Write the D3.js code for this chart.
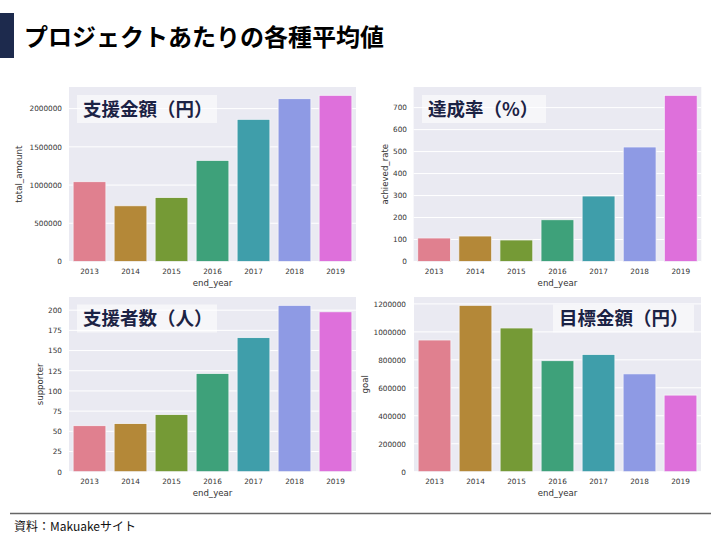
<!DOCTYPE html>
<html><head><meta charset="utf-8">
<script src="https://cdn.jsdelivr.net/npm/d3@7"></script>
<style>
body{margin:0;background:#fff;}
svg{display:block;}
</style></head>
<body>
<svg id="c" width="720" height="540"></svg>
<script>
const years = ["2013","2014","2015","2016","2017","2018","2019"];
const totalAmount = [1044000, 729000, 838000, 1323000, 1860000, 2130000, 2174000];
const achievedRate = [107, 116, 98, 190, 298, 521, 756];
const supporter = [57, 59.6, 70.8, 121.7, 166, 206, 198];
const goal = [942000, 1190000, 1028000, 794000, 839000, 700000, 548000];
const ticksTotal = [0, 500000, 1000000, 1500000, 2000000];
const ticksRate = [0, 100, 200, 300, 400, 500, 600, 700];
const ticksSupporter = [0, 25, 50, 75, 100, 125, 150, 175, 200];
const ticksGoal = [0, 200000, 400000, 600000, 800000, 1000000, 1200000];
const colors = ["#e0808f","#b48838","#759a36","#3ea17a","#3f9eaa","#8e9ae4","#de70db"];

const mainTitle = "プロジェクトあたりの各種平均値";
const footer = "資料：Makuakeサイト";

const svg = d3.select("#c");
const jp = "'Noto Sans CJK JP', 'Noto Sans', sans-serif";
const dv = "'DejaVu Sans', sans-serif";

// header
svg.append("rect").attr("x",0).attr("y",13).attr("width",14).attr("height",45).attr("fill","#1d2a4d");
svg.append("text").attr("x",24).attr("y",46).attr("font-family",jp).attr("font-weight","bold")
  .attr("font-size",24).attr("fill","#000").text(mainTitle);

// footer
svg.append("line").attr("x1",10).attr("x2",711).attr("y1",513.5).attr("y2",513.5)
  .attr("stroke","#666").attr("stroke-width",1.5);
svg.append("text").attr("x",14).attr("y",531).attr("font-family",jp).attr("font-size",12)
  .attr("fill","#111").text(footer);

const panels = [
  {data: totalAmount, ticks: ticksTotal, ylab: "total_amount", title: "支援金額（円）",
   x0: 69, x1: 356, y0: 87, y1: 261.5, ylabX: 19, tickR: 62, box: [77, 95, 140, 28]},
  {data: achievedRate, ticks: ticksRate, ylab: "achieved_rate", title: "達成率（%）",
   x0: 413.6, x1: 701.3, y0: 87, y1: 261.5, ylabX: 385, tickR: 407, box: [422, 95, 124, 28]},
  {data: supporter, ticks: ticksSupporter, ylab: "supporter", title: "支援者数（人）",
   x0: 69, x1: 356, y0: 297, y1: 471.7, ylabX: 39.5, tickR: 62, box: [77, 304.5, 140, 28]},
  {data: goal, ticks: ticksGoal, ylab: "goal", title: "目標金額（円）",
   x0: 414, x1: 701, y0: 297, y1: 471.7, ylabX: 365, tickR: 406, box: [553, 304.5, 141, 28]},
];

panels.forEach(p => {
  const g = svg.append("g");
  const x = d3.scaleBand().domain(years).range([p.x0, p.x1]).paddingInner(0.2).paddingOuter(0.1);
  const y = d3.scaleLinear().domain([0, d3.max(p.data) * 1.05]).range([p.y1, p.y0]);
  g.append("rect").attr("x",p.x0).attr("y",p.y0).attr("width",p.x1-p.x0).attr("height",p.y1-p.y0)
    .attr("fill","#eaeaf2");
  // grid
  g.selectAll("line.grid").data(p.ticks).join("line")
    .attr("x1",p.x0).attr("x2",p.x1).attr("y1",d=>y(d)).attr("y2",d=>y(d))
    .attr("stroke","#fff").attr("stroke-width",1);
  // bars
  g.selectAll("rect.bar").data(p.data).join("rect").attr("class","bar")
    .attr("x",(d,i)=>x(years[i])).attr("width",x.bandwidth())
    .attr("y",d=>y(d)).attr("height",d=>y(0)-y(d))
    .attr("fill",(d,i)=>colors[i]).attr("stroke","#f4f4f8").attr("stroke-width",0.8);
  // y axis
  const ya = d3.axisLeft(y).tickValues(p.ticks).tickSize(0).tickPadding(0).tickFormat(d3.format("d"));
  const yg = g.append("g").attr("transform",`translate(${p.tickR},0)`).call(ya);
  yg.select(".domain").remove();
  yg.selectAll("text").attr("font-family",dv).attr("font-size",7.3).attr("fill","#333");
  // x axis
  const xa = d3.axisBottom(x).tickSize(0).tickPadding(0);
  const xg = g.append("g").attr("transform",`translate(0,${p.y1+7})`).call(xa);
  xg.select(".domain").remove();
  xg.selectAll("text").attr("font-family",dv).attr("font-size",7.3).attr("fill","#333");
  // labels
  g.append("text").attr("x",(p.x0+p.x1)/2).attr("y",p.y1+24.5).attr("text-anchor","middle")
    .attr("font-family",dv).attr("font-size",8.6).attr("fill","#333").text("end_year");
  g.append("text").attr("transform",`translate(${p.ylabX},${(p.y0+p.y1)/2}) rotate(-90)`)
    .attr("text-anchor","middle").attr("dy","0.35em")
    .attr("font-family",dv).attr("font-size",8.6).attr("fill","#333").text(p.ylab);
  // title box
  const [bx,by,bw,bh] = p.box;
  g.append("rect").attr("x",bx).attr("y",by).attr("width",bw).attr("height",bh)
    .attr("fill","#fff").attr("fill-opacity",0.55);
  g.append("text").attr("x",bx+6).attr("y",by+bh/2).attr("dy","0.36em")
    .attr("font-family",jp).attr("font-weight","bold").attr("font-size",18.5)
    .attr("fill","#1b2244").text(p.title);
});
</script>
</body></html>
